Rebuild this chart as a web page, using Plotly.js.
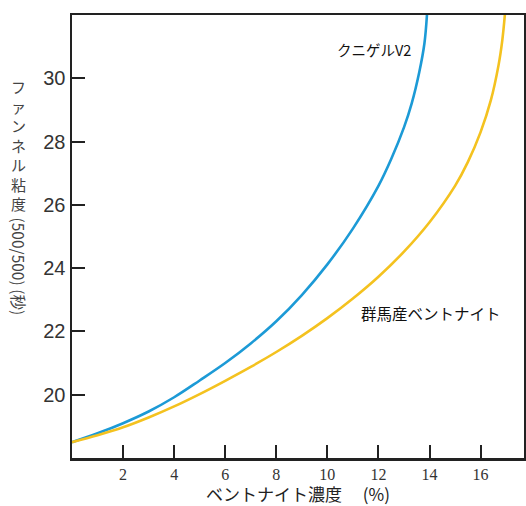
<!DOCTYPE html>
<html>
<head>
<meta charset="utf-8">
<script src="https://cdn.plot.ly/plotly-3.0.1.min.js"></script>
<style>html,body{margin:0;padding:0;background:#fff;}#chart{width:526px;height:506px;}</style>
</head>
<body>
<div id="chart"></div>
<script>
// Bentonite concentration (%) vs Funnel viscosity (s)
const kunigelX = [0, 1, 2, 3, 4, 5, 6, 7, 8, 9, 10, 11, 12, 12.5, 13, 13.3, 13.6, 13.8, 13.9];
const kunigelY = [18.5, 18.78, 19.1, 19.47, 19.92, 20.45, 21.0, 21.62, 22.32, 23.15, 24.12, 25.25, 26.6, 27.45, 28.45, 29.2, 30.2, 31.1, 32.0];
const gunmaX = [0, 1, 2, 3, 4, 5, 6, 7, 8, 9, 10, 11, 12, 13, 14, 15, 15.5, 16, 16.4, 16.7, 16.85, 16.95];
const gunmaY = [18.5, 18.72, 18.97, 19.28, 19.63, 20.02, 20.44, 20.88, 21.35, 21.86, 22.42, 23.04, 23.73, 24.52, 25.45, 26.6, 27.35, 28.3, 29.3, 30.4, 31.2, 32.0];
const xTicks = [2, 4, 6, 8, 10, 12, 14, 16];
const yTicks = [20, 22, 24, 26, 28, 30];
const labelKunigel = "クニゲルV2";
const labelGunma = "群馬産ベントナイト";
const xTitle = "ベントナイト濃度　 (%)";
const yTitleUpright = "ファンネル粘度";
const yTitleRotated = "(500/500) (秒)";

const traces = [
  {x: kunigelX, y: kunigelY, mode: "lines", line: {color: "#1c9ad6", width: 2.6, shape: "spline", smoothing: 1}, hoverinfo: "skip"},
  {x: gunmaX, y: gunmaY, mode: "lines", line: {color: "#f4c21f", width: 2.6, shape: "spline", smoothing: 1}, hoverinfo: "skip"}
];

const jp = "Noto Sans CJK JP, sans-serif";
const layout = {
  width: 526, height: 506,
  margin: {l: 72, r: 2, t: 15, b: 48},
  paper_bgcolor: "#fff", plot_bgcolor: "#fff",
  showlegend: false,
  xaxis: {
    range: [0, 17.7], tickvals: xTicks, ticktext: xTicks.map(String),
    ticks: "inside", ticklen: 13, tickwidth: 2, tickcolor: "#222",
    showline: true, linecolor: "#222", linewidth: 2.5, mirror: true,
    showgrid: false, zeroline: false,
    tickfont: {family: "Liberation Serif, serif", size: 16, color: "#333"},
    title: {text: xTitle, font: {family: jp, size: 17, color: "#222"}, standoff: 6}
  },
  yaxis: {
    range: [18, 32], tickvals: yTicks, ticktext: yTicks.map(String),
    ticks: "inside", ticklen: 13, tickwidth: 2, tickcolor: "#222",
    showline: true, linecolor: "#222", linewidth: 2.5, mirror: true,
    showgrid: false, zeroline: false,
    tickfont: {family: "Liberation Sans, Arial, sans-serif", size: 20, color: "#333"}
  },
  annotations: [
    {x: 11.84, y: 30.91, xref: "x", yref: "y", text: labelKunigel, showarrow: false,
     font: {family: jp, size: 14.5, color: "#111"}},
    {x: 14.04, y: 22.59, xref: "x", yref: "y", text: labelGunma, showarrow: false,
     font: {family: jp, size: 15.5, color: "#111"}},
    {x: -0.118, y: 0.707, xref: "paper", yref: "paper", text: yTitleUpright.split("").join("<br>"),
     showarrow: false, xanchor: "center", yanchor: "middle",
     font: {family: jp, size: 15, color: "#444"}},
    {x: -0.118, y: 0.433, xref: "paper", yref: "paper", text: yTitleRotated, textangle: 90,
     showarrow: false, xanchor: "center", yanchor: "middle",
     font: {family: jp, size: 15.5, color: "#444"}}
  ]
};

Plotly.newPlot("chart", traces, layout, {staticPlot: true, displayModeBar: false});
</script>
</body>
</html>
